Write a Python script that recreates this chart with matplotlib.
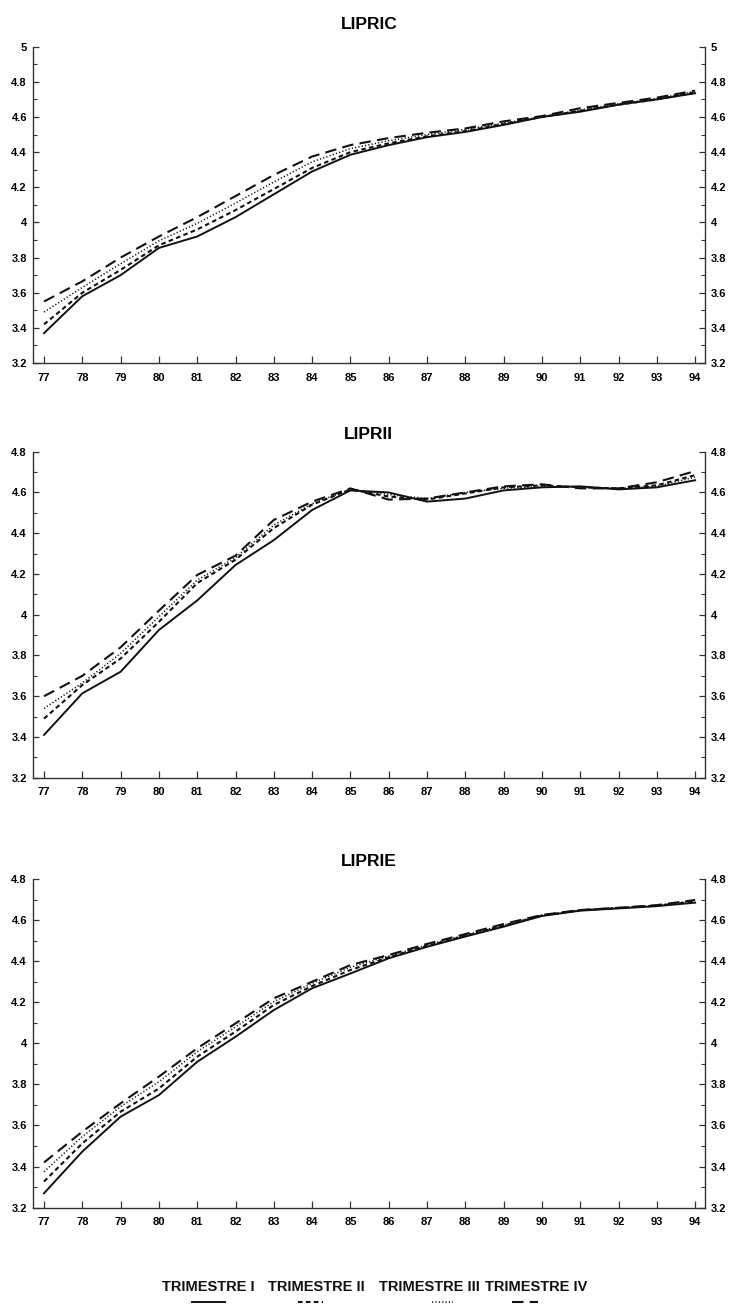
import numpy as np
import matplotlib
matplotlib.use("Agg")
import matplotlib.pyplot as plt
from matplotlib.ticker import MultipleLocator, FuncFormatter

plt.rcParams['font.family'] = ['Liberation Sans', 'DejaVu Sans']

years = list(range(77, 95))

# LIPRIC : trimestre I..IV
lipric_t1 = [3.37, 3.58, 3.70, 3.855, 3.92, 4.03, 4.16, 4.29, 4.385, 4.44, 4.485, 4.515, 4.555, 4.60, 4.63, 4.67, 4.70, 4.735]
lipric_t2 = [3.42, 3.60, 3.73, 3.87, 3.96, 4.07, 4.19, 4.31, 4.40, 4.45, 4.49, 4.52, 4.56, 4.60, 4.635, 4.67, 4.70, 4.74]
lipric_t3 = [3.49, 3.63, 3.765, 3.895, 3.995, 4.11, 4.23, 4.345, 4.42, 4.465, 4.50, 4.53, 4.565, 4.60, 4.64, 4.675, 4.705, 4.745]
lipric_t4 = [3.55, 3.665, 3.80, 3.92, 4.03, 4.15, 4.27, 4.375, 4.44, 4.48, 4.51, 4.535, 4.575, 4.605, 4.65, 4.68, 4.71, 4.75]

# LIPRII
liprii_t1 = [3.41, 3.614, 3.72, 3.925, 4.07, 4.244, 4.366, 4.514, 4.61, 4.60, 4.555, 4.57, 4.61, 4.625, 4.63, 4.615, 4.625, 4.66]
liprii_t2 = [3.49, 3.655, 3.785, 3.965, 4.155, 4.27, 4.425, 4.54, 4.615, 4.58, 4.565, 4.595, 4.625, 4.635, 4.625, 4.62, 4.635, 4.685]
liprii_t3 = [3.54, 3.665, 3.81, 3.99, 4.17, 4.28, 4.44, 4.545, 4.615, 4.59, 4.57, 4.60, 4.62, 4.63, 4.625, 4.62, 4.63, 4.675]
liprii_t4 = [3.60, 3.70, 3.84, 4.02, 4.195, 4.29, 4.465, 4.555, 4.62, 4.565, 4.57, 4.60, 4.63, 4.64, 4.62, 4.62, 4.65, 4.705]

# LIPRIE
liprie_t1 = [3.27, 3.473, 3.643, 3.748, 3.91, 4.032, 4.162, 4.268, 4.34, 4.414, 4.47, 4.52, 4.568, 4.62, 4.646, 4.657, 4.668, 4.685]
liprie_t2 = [3.327, 3.513, 3.667, 3.78, 3.935, 4.057, 4.187, 4.279, 4.357, 4.419, 4.474, 4.523, 4.573, 4.622, 4.648, 4.659, 4.67, 4.69]
liprie_t3 = [3.375, 3.546, 3.692, 3.813, 3.959, 4.08, 4.203, 4.292, 4.37, 4.425, 4.479, 4.527, 4.576, 4.624, 4.649, 4.66, 4.672, 4.695]
liprie_t4 = [3.42, 3.57, 3.708, 3.838, 3.976, 4.097, 4.219, 4.30, 4.381, 4.43, 4.484, 4.532, 4.581, 4.625, 4.649, 4.66, 4.673, 4.698]

titles = ["LIPRIC", "LIPRII", "LIPRIE"]
ymax = [5.0, 4.8, 4.8]
labels = ["TRIMESTRE I", "TRIMESTRE II", "TRIMESTRE III", "TRIMESTRE IV"]

styles = [
    dict(linestyle='-', linewidth=1.4),
    dict(linestyle=(0, (2.2, 1.6)), linewidth=1.5),
    dict(linestyle=(0, (0.8, 1.4)), linewidth=1.1),
    dict(linestyle=(0, (5.5, 3.0)), linewidth=1.5),
]

panels = [
    [lipric_t1, lipric_t2, lipric_t3, lipric_t4],
    [liprii_t1, liprii_t2, liprii_t3, liprii_t4],
    [liprie_t1, liprie_t2, liprie_t3, liprie_t4],
]

fig = plt.figure(figsize=(7.41, 13.04), dpi=100)
rects = [[0.0439, 0.7216, 0.9076, 0.2426],
         [0.0439, 0.4036, 0.9076, 0.2500],
         [0.0439, 0.0739, 0.9076, 0.2520]]
pads = [12.5, 9.5, 9.5]

fmt = FuncFormatter(lambda v, p: ('%g' % round(v, 1)))

for rect, title, top, series, pad in zip(rects, titles, ymax, panels, pads):
    ax = fig.add_axes(rect)
    for s, st in zip(series, styles):
        ax.plot(years, s, color='#111111', **st)
    ax.set_xlim(76.70, 94.26)
    ax.set_ylim(3.2, top)
    ax.set_xticks(years)
    ax.set_xticklabels([str(y) for y in years])
    ax.yaxis.set_major_locator(MultipleLocator(0.2))
    ax.yaxis.set_minor_locator(MultipleLocator(0.1))
    ax.yaxis.set_major_formatter(fmt)
    ax.spines['top'].set_visible(False)
    for sp in ['left', 'right', 'bottom']:
        ax.spines[sp].set_linewidth(1.0)
        ax.spines[sp].set_color('#333333')
    ax.tick_params(axis='y', which='both', direction='in', left=True, right=True,
                   labelleft=True, labelright=True, color='#333333')
    ax.tick_params(axis='y', which='major', length=4, width=0.9, labelsize=8, pad=4)
    ax.tick_params(axis='y', which='minor', length=3, width=0.8)
    ax.tick_params(axis='x', which='major', direction='in', length=5, width=0.9,
                   labelsize=8, pad=7, color='#333333')
    for lab in ax.get_xticklabels() + ax.get_yticklabels():
        lab.set_fontweight('bold')
    ax.set_title(title, fontsize=12.5, fontweight='bold', pad=pad)

# legend strip at the foot of the page
lax = fig.add_axes([0, 0, 1, 0.03])
lax.set_xlim(0, 741)
lax.set_ylim(0, 39.12)
lax.axis('off')
label_x = [208, 316, 429, 536]
sample_x = [(192, 225), (298, 323), (432, 453), (512, 538)]
for lab, cx, (x0, x1), st in zip(labels, label_x, sample_x, styles):
    lax.text(cx, 17, lab, ha='center', va='center', fontsize=10.5,
             fontweight='bold', color='#111111')
    lax.plot([x0, x1], [2.0, 2.0], color='#111111', **st)

fig.savefig("out.png", dpi=100)
